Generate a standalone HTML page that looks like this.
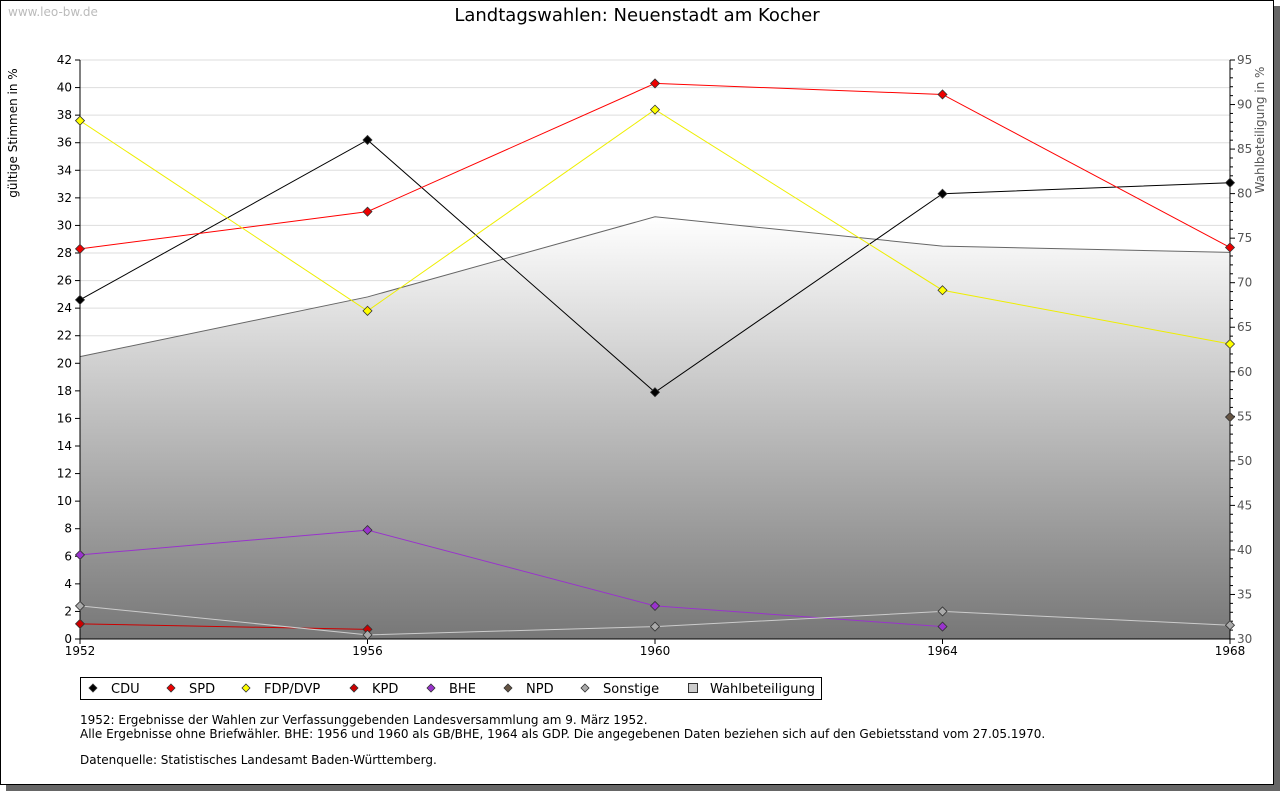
<!DOCTYPE html>
<html><head><meta charset="utf-8"><style>
body{margin:0;background:#fff;width:1280px;height:791px;overflow:hidden;font-family:"DejaVu Sans","Liberation Sans",sans-serif}
</style></head><body>
<svg id="c" width="1280" height="791" xmlns="http://www.w3.org/2000/svg" font-family="DejaVu Sans, Liberation Sans, sans-serif">
<defs><linearGradient id="g" x1="0" y1="0" x2="0" y2="1"><stop offset="0" stop-color="#ffffff"/><stop offset="1" stop-color="#777777"/></linearGradient></defs>
<rect x="6" y="6" width="1274" height="785" fill="#666"/>
<rect x="0.5" y="0.5" width="1273" height="784" fill="#fff" stroke="#000"/>
<text x="8" y="16" font-size="12" fill="#bbb">www.leo-bw.de</text>
<text x="637" y="21" font-size="18" text-anchor="middle">Landtagswahlen: Neuenstadt am Kocher</text>
<text transform="translate(17,133) rotate(-90)" font-size="12" text-anchor="middle">gültige Stimmen in %</text>
<text transform="translate(1264,130) rotate(-90)" font-size="12" fill="#555" text-anchor="middle">Wahlbeteiligung in %</text>
<g id="grid"></g><g id="area"></g><g id="axes"></g><g id="series"></g>
<g>
<rect x="80.5" y="677.5" width="741" height="22" fill="#fff" stroke="#000"/>
<g id="legend" font-size="13"></g>
</g>
<g font-size="12">
<text x="80" y="724">1952: Ergebnisse der Wahlen zur Verfassunggebenden Landesversammlung am 9. März 1952.</text>
<text x="80" y="738">Alle Ergebnisse ohne Briefwähler. BHE: 1956 und 1960 als GB/BHE, 1964 als GDP. Die angegebenen Daten beziehen sich auf den Gebietsstand vom 27.05.1970.</text>
<text x="80" y="764">Datenquelle: Statistisches Landesamt Baden-Württemberg.</text>
</g>
</svg>
<script>
const years=[1952,1956,1960,1964,1968];
const cdu=[24.6,36.2,17.9,32.3,33.1];
const spd=[28.3,31.0,40.3,39.5,28.4];
const fdp=[37.6,23.8,38.4,25.3,21.4];
const kpd=[1.1,0.7,null,null,null];
const bhe=[6.1,7.9,2.4,0.9,null];
const npd=[null,null,null,null,16.1];
const sonstige=[2.4,0.3,0.9,2.0,1.0];
const turnout=[61.7,68.4,77.4,74.1,73.4];
const leftTicks=[0,2,4,6,8,10,12,14,16,18,20,22,24,26,28,30,32,34,36,38,40,42];
const rightTicks=[30,35,40,45,50,55,60,65,70,75,80,85,90,95];
const NS='http://www.w3.org/2000/svg';
const X0=80,X1=1230,Y0=639,Y1=60;
const xs=y=>X0+(y-1952)/(1968-1952)*(X1-X0);
const yl=v=>Y0-v/42*(Y0-Y1);
const yr=v=>Y0-(v-30)/65*(Y0-Y1);
function el(t,a,p){const e=document.createElementNS(NS,t);for(const k in a)e.setAttribute(k,a[k]);document.getElementById(p).appendChild(e);return e;}
leftTicks.forEach(v=>{
 if(v>0){const l=el('line',{x1:X0,x2:X1,y1:yl(v),y2:yl(v),stroke:'#ddd'},'grid');
 
 }
 el('line',{x1:X0-5,x2:X0,y1:yl(v),y2:yl(v),stroke:'#000'},'axes');
 const t=el('text',{x:X0-8,y:yl(v)+4,'font-size':12,'text-anchor':'end'},'axes');t.textContent=v;
 
 
});
for(let v=30;v<=95;v++){el('line',{x1:X1,x2:X1+(v%5?3:5),y1:yr(v),y2:yr(v),stroke:'#000'},'axes');}
rightTicks.forEach(v=>{const t=el('text',{x:X1+7,y:yr(v)+4,'font-size':12,fill:'#555'},'axes');t.textContent=v;
 
 });
let d='M'+xs(years[0])+','+Y0;years.forEach((y,i)=>d+=' L'+xs(y)+','+yr(turnout[i]));d+=' L'+xs(years[years.length-1])+','+Y0+'Z';
const a=el('path',{d:d,fill:'url(#g)'},'area');


let d2='';years.forEach((y,i)=>d2+=(i?' L':'M')+xs(y)+','+yr(turnout[i]));
el('path',{d:d2,fill:'none',stroke:'#666'},'area');
el('line',{x1:X0,x2:X0,y1:Y1,y2:Y0,stroke:'#000'},'axes');
el('line',{x1:X1,x2:X1,y1:Y1,y2:Y0,stroke:'#000'},'axes');
el('line',{x1:X0,x2:X1,y1:Y0,y2:Y0,stroke:'#000'},'axes');
years.forEach(y=>{el('line',{x1:xs(y),x2:xs(y),y1:Y0,y2:Y0+5,stroke:'#000'},'axes');
 const t=el('text',{x:xs(y),y:Y0+16,'font-size':12,'text-anchor':'middle'},'axes');t.textContent=y;
 
 });
const series=[['cdu',cdu,'#000','#000'],['spd',spd,'#f00','#e00'],['fdp',fdp,'#ee0','#ff0'],['kpd',kpd,'#c00','#c00'],['bhe',bhe,'#93c','#93c'],['npd',npd,'#654','#654'],['sonstige',sonstige,'#ccc','#aaa']];
series.forEach(([n,vals,lc,fc])=>{
 let p='',pen=false;
 vals.forEach((v,i)=>{if(v==null){pen=false;return;}p+=(pen?' L':' M')+xs(years[i])+','+yl(v);pen=true;});
 const l=el('path',{d:p,fill:'none',stroke:lc},'series');
 
 
 vals.forEach((v,i)=>{if(v==null)return;const x=xs(years[i]),y=yl(v);
  const m=el('path',{d:`M${x},${y-4.5} L${x+4.5},${y} L${x},${y+4.5} L${x-4.5},${y}Z`,fill:fc,stroke:'#333','stroke-width':0.8},'series');
  
  });
});
const leg=[['CDU','#000',93],['SPD','#e00',171],['FDP/DVP','#ff0',246],['KPD','#c00',354],['BHE','#93c',431],['NPD','#654',508],['Sonstige','#aaa',585]];
leg.forEach(([t,c,x])=>{el('path',{d:`M${x},${684} L${x+4},${688} L${x},${692} L${x-4},${688}Z`,fill:c,stroke:'#333','stroke-width':0.8},'legend');
 const tx=el('text',{x:x+18,y:693},'legend');tx.textContent=t;
 
 });
el('rect',{x:688.5,y:683.5,width:9,height:9,fill:'#ccc',stroke:'#333'},'legend');
const tw=el('text',{x:710,y:693},'legend');tw.textContent='Wahlbeteiligung';


</script>
</body></html>
